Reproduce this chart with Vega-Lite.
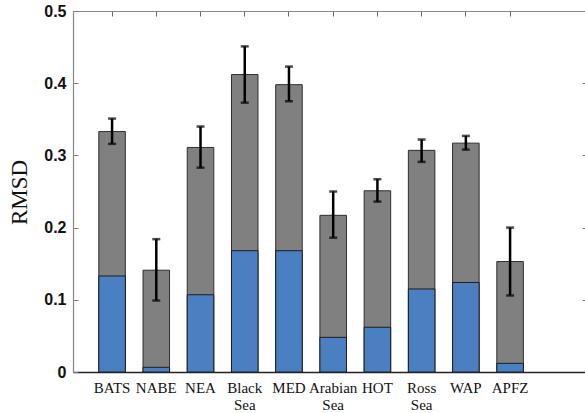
{
  "$schema": "https://vega.github.io/schema/vega-lite/v6.json",
  "autosize": {"type": "none"},
  "padding": {"left": 73, "top": 11, "right": 0, "bottom": 41},
  "width": 513,
  "height": 361,
  "background": "white",
  "config": {"view": {"stroke": null}},
  "data": {"values": [
    {"site": "BATS", "total": 0.333, "blue": 0.133, "lo": 0.316, "hi": 0.351},
    {"site": "NABE", "total": 0.141, "blue": 0.0065, "lo": 0.099, "hi": 0.184},
    {"site": "NEA", "total": 0.311, "blue": 0.107, "lo": 0.283, "hi": 0.340},
    {"site": "Black Sea", "total": 0.412, "blue": 0.168, "lo": 0.373, "hi": 0.451},
    {"site": "MED", "total": 0.398, "blue": 0.168, "lo": 0.375, "hi": 0.423},
    {"site": "Arabian Sea", "total": 0.217, "blue": 0.048, "lo": 0.186, "hi": 0.250},
    {"site": "HOT", "total": 0.251, "blue": 0.062, "lo": 0.236, "hi": 0.267},
    {"site": "Ross Sea", "total": 0.307, "blue": 0.115, "lo": 0.291, "hi": 0.322},
    {"site": "WAP", "total": 0.317, "blue": 0.124, "lo": 0.308, "hi": 0.327},
    {"site": "APFZ", "total": 0.153, "blue": 0.012, "lo": 0.106, "hi": 0.200}
  ]},
  "resolve": {"axis": {"x": "independent", "y": "independent"}},
  "layer": [
    {
      "mark": {"type": "bar", "color": "#808080", "stroke": "#2e2e2e", "strokeWidth": 1},
      "encoding": {
        "x": {"field": "site", "type": "nominal", "sort": null,
          "scale": {"type": "band", "paddingInner": 0.4, "paddingOuter": 1.2, "align": 0.2917},
          "axis": {"orient": "bottom", "title": null, "ticks": false, "labelAngle": 0,
            "labelExpr": "split(datum.label, ' ')", "labelLineHeight": 17,
            "labelFont": "Liberation Serif", "labelFontSize": 15, "labelColor": "#111",
            "labelPadding": 8, "domainColor": "#222", "domainWidth": 1.5}},
        "y": {"field": "total", "type": "quantitative",
          "scale": {"domain": [0, 0.5], "nice": false, "zero": true},
          "axis": {"orient": "left", "values": [0, 0.1, 0.2, 0.3, 0.4, 0.5], "format": ".1~f",
            "grid": false, "tickSize": -5, "tickColor": "#777", "labelPadding": 12,
            "labelFont": "Liberation Sans", "labelFontWeight": "bold", "labelFontSize": 16,
            "labelColor": "#111", "domainColor": "#888", "domainWidth": 1.2,
            "title": "RMSD", "titleFont": "Liberation Serif", "titleFontSize": 23,
            "titleFontWeight": "normal", "titleColor": "#111", "titleAngle": 270,
            "titleAlign": "center", "titleBaseline": "alphabetic", "titleX": -47, "titleY": 181}}
      }
    },
    {
      "mark": {"type": "bar", "color": "#4a7fc1", "stroke": "#1e1e1e", "strokeWidth": 1},
      "encoding": {
        "x": {"field": "site", "type": "nominal", "sort": null, "axis": null},
        "y": {"field": "blue", "type": "quantitative", "axis": null}
      }
    },
    {
      "mark": {"type": "rule", "color": "#000", "strokeWidth": 2.5},
      "encoding": {
        "x": {"field": "site", "type": "nominal", "sort": null,
          "axis": {"orient": "top", "title": null, "labels": false, "tickSize": -5,
            "tickColor": "#666", "domainColor": "#888", "domainWidth": 1.2}},
        "y": {"field": "lo", "type": "quantitative",
          "axis": {"orient": "right", "title": null, "labels": false, "grid": false,
            "values": [0.1, 0.2, 0.3, 0.4], "tickSize": -4, "tickColor": "#777", "domain": false}},
        "y2": {"field": "hi"}
      }
    },
    {
      "mark": {"type": "tick", "color": "#000", "thickness": 2.5, "size": 8},
      "encoding": {
        "x": {"field": "site", "type": "nominal", "sort": null, "axis": null},
        "y": {"field": "lo", "type": "quantitative", "axis": null}
      }
    },
    {
      "mark": {"type": "tick", "color": "#000", "thickness": 2.5, "size": 8},
      "encoding": {
        "x": {"field": "site", "type": "nominal", "sort": null, "axis": null},
        "y": {"field": "hi", "type": "quantitative", "axis": null}
      }
    }
  ]
}
